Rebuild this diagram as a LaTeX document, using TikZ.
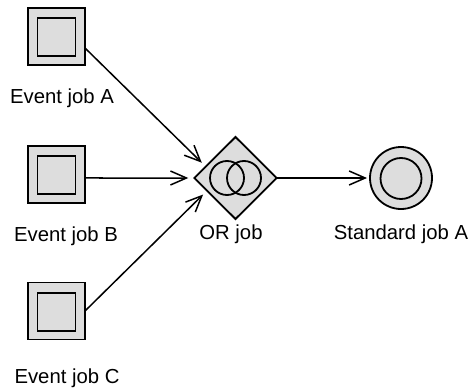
\documentclass[tikz,border=0pt]{standalone}
\usepackage{fontspec}
\setmainfont{Liberation Sans}
\usetikzlibrary{shapes.geometric,arrows.meta}
\definecolor{jobfill}{RGB}{221,221,221}
\tikzset{
  shapeline/.style={draw=black,line width=1.8pt},
  evtout/.style={shapeline,fill=jobfill,rectangle,minimum size=57pt,inner sep=0pt,outer sep=0pt},
  evtin/.style={shapeline,rectangle,minimum size=38pt,inner sep=0pt,outer sep=0pt},
  orbox/.style={shapeline,fill=jobfill,diamond,minimum width=82.4pt,minimum height=82pt,inner sep=0pt,outer sep=0pt},
  orring/.style={shapeline,circle,minimum size=34pt,inner sep=0pt,outer sep=0pt},
  stdout/.style={shapeline,fill=jobfill,circle,minimum size=62pt,inner sep=0pt,outer sep=0pt},
  stdin/.style={shapeline,circle,minimum size=41pt,inner sep=0pt,outer sep=0pt},
  lab/.style={anchor=base,inner sep=0pt,font=\fontsize{20.3}{24}\selectfont},
  arr/.style={draw=black,line width=1.5pt,-{Straight Barb[length=16pt,width=14pt]}}
}
\begin{document}
\begin{tikzpicture}[x=1pt,y=-1pt]
\useasboundingbox (0,0) rectangle (470,390);
% event jobs
\node[evtout] (A) at (56.5,36.5) {};
\node[evtin] (Ai) at (56.5,37) {};
\node[evtout] (B) at (56.5,174.5) {};
\node[evtin] (Bi) at (56.5,174.7) {};
\node[evtout] (C) at (56.5,311) {};
\node[evtin] (Ci) at (56.5,311.8) {};
% OR job
\node[orbox] (OR) at (235.5,178) {};
\node[orring] (OR1) at (227,178) {};
\node[orring] (OR2) at (244,178) {};
% standard job
\node[stdout] (S) at (401,178) {};
\node[stdin] (Si) at (401,178.5) {};
% labels
\node[lab] (LA) at (62,103.5) {Event job A};
\node[lab] (LB) at (66,241.5) {Event job B};
\node[lab] (LC) at (67,383) {Event job C};
\node[lab] (LOR) at (231,239.5) {OR job};
\node[lab] (LS) at (401,239.5) {Standard job A};
% connectors
\draw[arr,shorten >=5.5pt] (A.-22.5) -- (OR.159);
\draw[arr,shorten >=6pt] (B.-7) -- (OR.west);
\draw[arr,shorten >=5.5pt] (C.east) -- (OR.204.3);
\draw[arr,shorten >=3pt] (OR.east) -- (S.west);
\end{tikzpicture}
\end{document}
